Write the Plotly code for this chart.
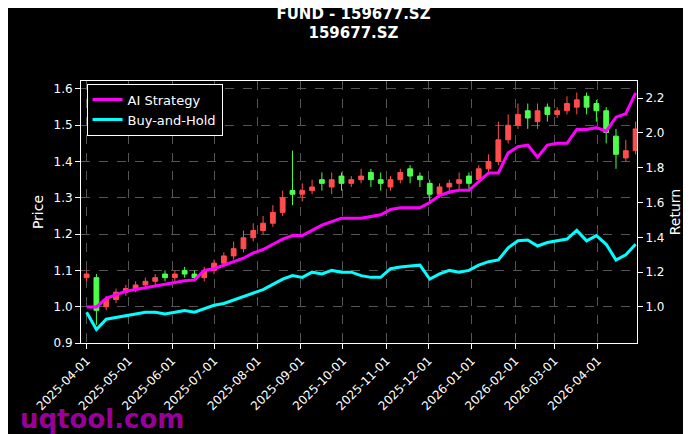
import pandas as pd
import plotly.graph_objects as go

# weekly samples
dates = pd.date_range("2025-04-01", periods=57, freq="7D")
close = [1.09, 0.99, 1.02, 1.04, 1.05, 1.06, 1.07, 1.08, 1.08, 1.09, 1.09, 1.08, 1.10, 1.12, 1.14,
         1.16, 1.19, 1.21, 1.23, 1.26, 1.30, 1.31, 1.32, 1.33, 1.34, 1.35, 1.34, 1.35, 1.36, 1.35,
         1.34, 1.35, 1.37, 1.36, 1.35, 1.31, 1.33, 1.34, 1.35, 1.34, 1.38, 1.40, 1.46, 1.50, 1.53,
         1.52, 1.54, 1.53, 1.54, 1.56, 1.57, 1.55, 1.54, 1.48, 1.42, 1.43, 1.49]
open_ = [1.08, 1.08, 1.00, 1.02, 1.04, 1.05, 1.06, 1.07, 1.09, 1.08, 1.10, 1.09, 1.08, 1.10, 1.12,
         1.14, 1.16, 1.19, 1.21, 1.23, 1.26, 1.32, 1.31, 1.32, 1.35, 1.33, 1.36, 1.34, 1.35, 1.37,
         1.35, 1.33, 1.35, 1.38, 1.36, 1.34, 1.31, 1.33, 1.34, 1.36, 1.35, 1.38, 1.40, 1.46, 1.50,
         1.54, 1.51, 1.55, 1.53, 1.54, 1.55, 1.58, 1.56, 1.54, 1.47, 1.41, 1.43]
high = [1.10, 1.09, 1.03, 1.05, 1.06, 1.07, 1.08, 1.09, 1.10, 1.10, 1.11, 1.10, 1.11, 1.13, 1.15,
        1.18, 1.21, 1.23, 1.25, 1.28, 1.32, 1.43, 1.34, 1.35, 1.37, 1.37, 1.37, 1.36, 1.38, 1.38,
        1.37, 1.36, 1.38, 1.39, 1.37, 1.35, 1.34, 1.35, 1.37, 1.37, 1.39, 1.42, 1.51, 1.53, 1.56,
        1.56, 1.56, 1.56, 1.55, 1.58, 1.59, 1.59, 1.57, 1.55, 1.49, 1.46, 1.51]
low = [1.07, 0.95, 0.99, 1.01, 1.03, 1.04, 1.05, 1.06, 1.07, 1.07, 1.08, 1.07, 1.07, 1.09, 1.11,
       1.13, 1.15, 1.18, 1.20, 1.22, 1.25, 1.28, 1.29, 1.31, 1.32, 1.31, 1.32, 1.33, 1.34, 1.33,
       1.32, 1.32, 1.34, 1.34, 1.33, 1.29, 1.30, 1.31, 1.32, 1.32, 1.34, 1.37, 1.39, 1.45, 1.49,
       1.49, 1.49, 1.51, 1.52, 1.53, 1.53, 1.53, 1.51, 1.45, 1.38, 1.40, 1.42]
ai_return = [1.00, 1.00, 1.05, 1.07, 1.09, 1.10, 1.11, 1.12, 1.13, 1.14, 1.15, 1.155, 1.21, 1.22, 1.24,
             1.26, 1.28, 1.31, 1.33, 1.36, 1.39, 1.41, 1.41, 1.44, 1.47, 1.49, 1.51, 1.51, 1.51, 1.52,
             1.53, 1.56, 1.57, 1.57, 1.57, 1.60, 1.64, 1.66, 1.67, 1.67, 1.72, 1.77, 1.77, 1.885, 1.92,
             1.93, 1.86, 1.93, 1.94, 1.94, 2.02, 2.02, 2.03, 2.01, 2.09, 2.11, 2.23]
bh_return = [0.97, 0.87, 0.93, 0.94, 0.95, 0.96, 0.97, 0.97, 0.96, 0.97, 0.98, 0.97, 0.99, 1.01, 1.02,
             1.04, 1.06, 1.08, 1.10, 1.13, 1.16, 1.18, 1.17, 1.20, 1.19, 1.21, 1.20, 1.20, 1.18, 1.17,
             1.17, 1.22, 1.23, 1.235, 1.24, 1.16, 1.19, 1.21, 1.20, 1.21, 1.24, 1.26, 1.27, 1.34, 1.38,
             1.385, 1.35, 1.37, 1.38, 1.39, 1.44, 1.38, 1.41, 1.36, 1.27, 1.30, 1.36]
return_ticks = [1.0, 1.2, 1.4, 1.6, 1.8, 2.0, 2.2]

fig = go.Figure()
fig.add_trace(go.Candlestick(
    x=dates, open=open_, high=high, low=low, close=close,
    increasing=dict(line=dict(color="#ff4d4d", width=1), fillcolor="#ff4d4d"),
    decreasing=dict(line=dict(color="#4dff4d", width=1), fillcolor="#4dff4d"),
    whiskerwidth=0, showlegend=False, name="Price"))
fig.add_trace(go.Scatter(x=dates, y=ai_return, yaxis="y2", mode="lines", name="AI Strategy",
                         line=dict(color="#ff00ff", width=3)))
fig.add_trace(go.Scatter(x=dates, y=bh_return, yaxis="y2", mode="lines", name="Buy-and-Hold",
                         line=dict(color="#00ffff", width=3)))

grid = dict(showgrid=True, gridcolor="#555555", griddash="dash", gridwidth=0.5,
            showline=True, linecolor="white", mirror=True, ticks="outside",
            tickcolor="white", zeroline=False, automargin=False)
fig.update_layout(
    width=691, height=434,
    paper_bgcolor="black", plot_bgcolor="black",
    font=dict(family="DejaVu Sans", color="white", size=12),
    title=dict(text="<b>FUND - 159677.SZ<br>159677.SZ</b>", x=0.5, xanchor="center",
               y=0.975, yanchor="top", font=dict(size=15), automargin=False),
    margin=dict(l=73, r=62, t=73, b=99),
    xaxis=dict(**grid, range=["2025-03-28", "2026-04-29"], rangeslider=dict(visible=False),
               dtick="M1", tick0="2025-04-01", tickformat="%Y-%m-%d", tickangle=-45),
    yaxis=dict(**grid, range=[0.9, 1.622], dtick=0.1, tickformat=".1f",
               title=dict(text="Price", standoff=6)),
    yaxis2=dict(overlaying="y", side="right", range=[0.793, 2.298], tickvals=return_ticks,
                tickformat=".1f", showgrid=False, ticks="outside", tickcolor="white",
                zeroline=False, automargin=False, title=dict(text="Return", standoff=6)),
    legend=dict(x=0.01, y=0.99, xanchor="left", yanchor="top", bgcolor="black",
                bordercolor="white", borderwidth=1, font=dict(size=13)),
)
fig.add_annotation(text="<b>uqtool.com</b>", xref="paper", yref="paper", x=-0.113, y=-0.225,
                   xanchor="left", yanchor="top", showarrow=False,
                   font=dict(size=26, color="#990099"))
fig.write_html("out.html")
